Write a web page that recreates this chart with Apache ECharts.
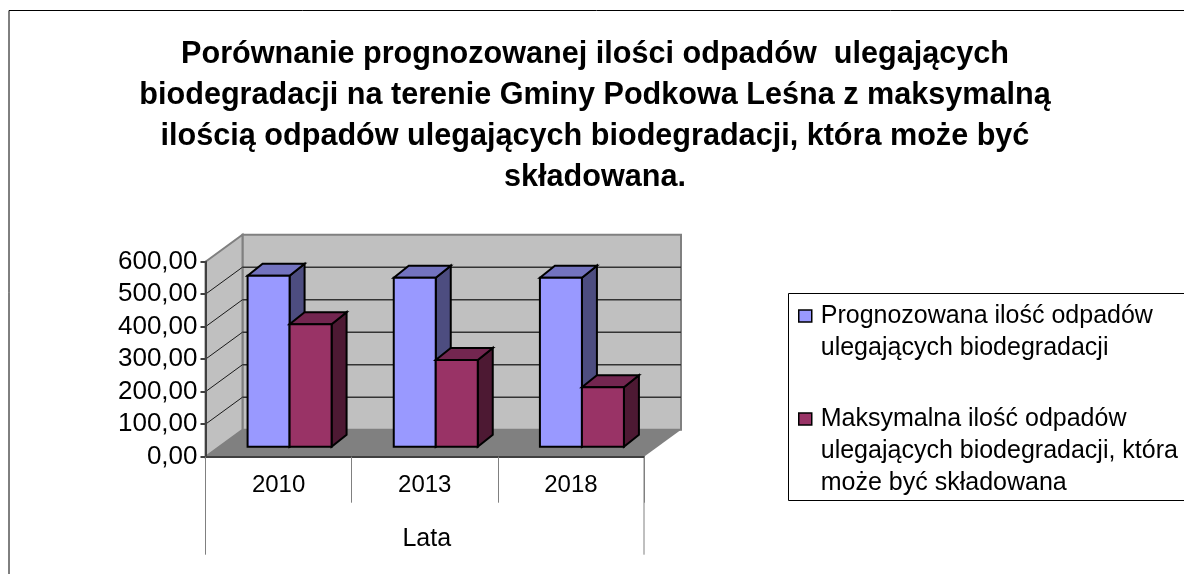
<!DOCTYPE html>
<html>
<head>
<meta charset="utf-8">
<style>html,body{margin:0;padding:0;background:#fff;overflow:hidden}#c{width:1184px;height:574px}</style>
<script src="https://cdn.jsdelivr.net/npm/echarts@6/dist/echarts.min.js"></script>
</head>
<body>
<div id="c"></div>
<script>
const categories = ['2010', '2013', '2018'];
const forecast = [526, 520, 520];
const maximum = [377, 267, 183];
const valueTicks = [0, 100, 200, 300, 400, 500, 600];
const seriesNames = ['Prognozowana ilość odpadów ulegających biodegradacji',
  'Maksymalna ilość odpadów ulegających biodegradacji, która może być składowana'];
const legendLines = {
  [seriesNames[0]]: ['Prognozowana ilość odpadów', 'ulegających biodegradacji'],
  [seriesNames[1]]: ['Maksymalna ilość odpadów', 'ulegających biodegradacji, która', 'może być składowana']
};
const titleLines = ['Porównanie prognozowanej ilości odpadów  ulegających',
  'biodegradacji na terenie Gminy Podkowa Leśna z maksymalną',
  'ilością odpadów ulegających biodegradacji, która może być',
  'składowana.'];
const axisTitle = 'Lata';

const FONT = '"Liberation Sans", Arial, sans-serif';
const DX = 37, DY = -27;          // depth of the plot box
const BAR_DX = 15, BAR_DY = -12;  // depth of one bar
const SHIFT_X = 11, SHIFT_Y = -10; // bars sit inside the box
const BAR_W = 42;

function poly(points, fill, stroke, lw) {
  return {type: 'polygon', shape: {points}, style: {fill, stroke: stroke || null, lineWidth: lw || 0}};
}
function seg(x1, y1, x2, y2, stroke, lw) {
  return {type: 'line', shape: {x1, y1, x2, y2}, style: {stroke, lineWidth: lw}};
}
function frame(params, api) {
  const cs = params.coordSys, x0 = cs.x, x1 = cs.x + cs.width, yB = cs.y + cs.height, yT = cs.y;
  const v = api.value(0);
  const y = api.coord([0, v])[1];
  const children = [];
  if (params.dataIndex === 0) {
    children.push(poly([[x0 + DX, yT + DY], [x1 + DX, yT + DY], [x1 + DX, yB + DY], [x0 + DX, yB + DY]], '#C0C0C0', '#808080', 2));
    children.push(poly([[x0, yT], [x0 + DX, yT + DY], [x0 + DX, yB + DY], [x0, yB]], '#C0C0C0', '#808080', 2));
    children.push(poly([[x0, yB], [x0 + DX, yB + DY], [x1 + DX, yB + DY], [x1, yB]], '#808080'));
    children.push(seg(x0, yB, x0, yB + 98, '#808080', 1));
    children.push(seg(x1, yB, x1, yB + 98, '#808080', 1));
  } else if (v < valueTicks[valueTicks.length - 1]) {
    children.push(seg(x0, y, x0 + DX, y + DY, '#1a1a1a', 1));
    children.push(seg(x0 + DX, y + DY, x1 + DX, y + DY, '#333333', 1.5));
  }
  return {type: 'group', children};
}
function bar(seriesIdx, front, side, top) {
  return function (params, api) {
    const base = api.coord([api.value(0), 0]);
    const tip = api.coord([api.value(0), api.value(1)]);
    const l = base[0] + SHIFT_X - BAR_W + seriesIdx * BAR_W;
    const r = l + BAR_W;
    const b = base[1] + SHIFT_Y, t = tip[1] + SHIFT_Y;
    const s = '#000', w = 2;
    return {type: 'group', children: [
      poly([[r, b], [r + BAR_DX, b + BAR_DY], [r + BAR_DX, t + BAR_DY], [r, t]], side, s, w),
      poly([[l, t], [l + BAR_DX, t + BAR_DY], [r + BAR_DX, t + BAR_DY], [r, t]], top, s, w),
      poly([[l, b], [l, t], [r, t], [r, b]], front, s, w)
    ]};
  };
}

const chart = echarts.init(document.getElementById('c'), null, {renderer: 'canvas'});
chart.setOption({
  animation: false,
  backgroundColor: '#fff',
  title: {
    text: titleLines.join('\n'), left: 590, top: 29, textAlign: 'center',
    textStyle: {fontFamily: FONT, fontWeight: 'bold', fontSize: 30.6, lineHeight: 41, color: '#000'}
  },
  graphic: [
    {type: 'polyline', z: -1, shape: {points: [[9, 574], [9, 10.5], [1184, 10.5]]}, style: {stroke: '#000', lineWidth: 1, fill: null}},
    {type: 'rect', z: -1, shape: {x: 788.5, y: 293.5, width: 420, height: 207}, style: {stroke: '#000', lineWidth: 1, fill: '#fff'}}
  ],
  legend: {
    orient: 'vertical', left: 798, top: 268, padding: 0, itemGap: -25,
    icon: 'rect', itemWidth: 13, itemHeight: 12, selectedMode: false,
    data: seriesNames.map((name, i) => ({
      name, icon: 'rect',
      itemStyle: {color: i ? '#993366' : '#9999FF', borderColor: '#000', borderWidth: 1.5}
    })),
    formatter: name => {
      const L = legendLines[name];
      return new Array(L.length - 1).fill('').concat(L).join('\n');
    },
    textStyle: {fontFamily: FONT, fontSize: 25, lineHeight: 32, color: '#000', padding: [0, 0, 0, 4]}
  },
  grid: {left: 205.5, top: 261.7, width: 438.5, height: 195},
  xAxis: {
    type: 'category', data: categories, boundaryGap: true, z: 5,
    name: axisTitle, nameLocation: 'middle', nameGap: 70,
    nameTextStyle: {fontFamily: FONT, fontSize: 25, color: '#000', padding: [0, 0, 0, 4]},
    axisLine: {lineStyle: {color: '#404040', width: 2}},
    axisTick: {show: true, length: 46, alignWithLabel: false, lineStyle: {color: '#808080', width: 1}},
    axisLabel: {fontFamily: FONT, fontSize: 24, color: '#000', margin: 17},
    splitLine: {show: false}
  },
  yAxis: {
    type: 'value', min: 0, max: 600, interval: 100, z: 5,
    axisLine: {show: true, lineStyle: {color: '#404040', width: 2}},
    axisTick: {show: true, length: 5, lineStyle: {color: '#404040', width: 2}},
    axisLabel: {fontFamily: FONT, fontSize: 26, color: '#000', margin: 8,
      formatter: v => v.toFixed(2).replace('.', ',')},
    splitLine: {show: false}
  },
  series: [
    {type: 'custom', name: '_frame', silent: true, z: 1, data: valueTicks.map(v => [v]), renderItem: frame, encode: {y: 0}},
    {type: 'custom', name: seriesNames[0], z: 2, itemStyle: {color: '#9999FF'},
      data: categories.map((c, i) => [i, forecast[i]]), encode: {x: 0, y: 1},
      renderItem: bar(0, '#9999FF', '#4D4D80', '#7373BF')},
    {type: 'custom', name: seriesNames[1], z: 3, itemStyle: {color: '#993366'},
      data: categories.map((c, i) => [i, maximum[i]]), encode: {x: 0, y: 1},
      renderItem: bar(1, '#993366', '#4D1933', '#732650')}
  ]
});
</script>
</body>
</html>
